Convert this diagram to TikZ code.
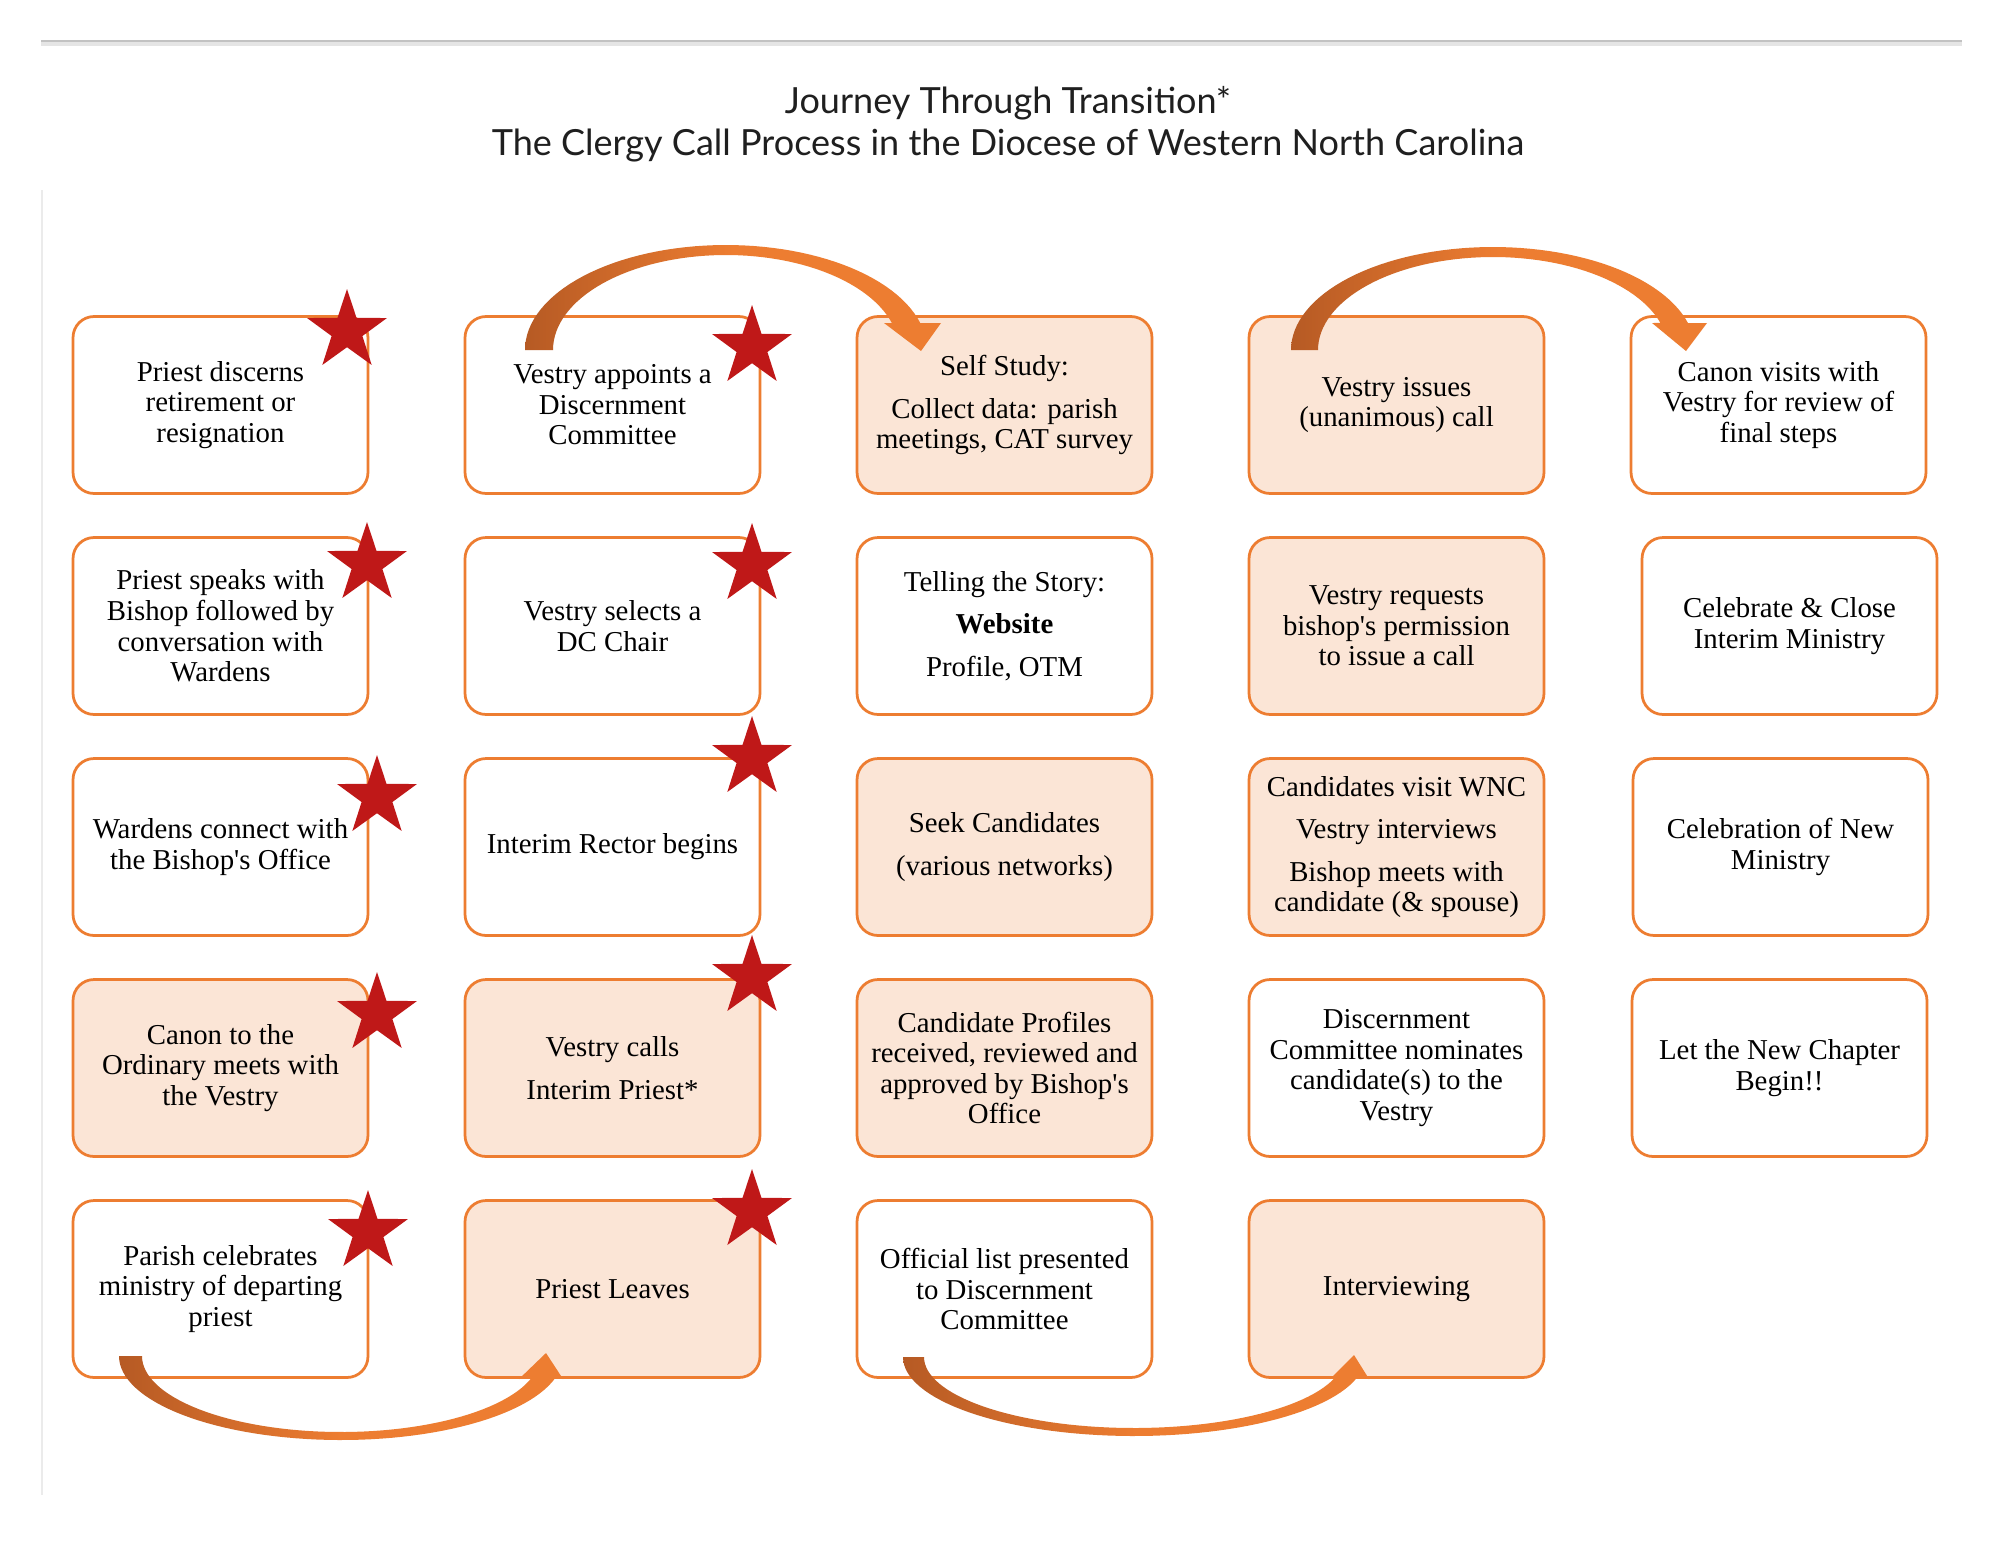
\documentclass[tikz,border=0pt]{standalone}
\usepackage{fontspec}
\setmainfont{Liberation Serif}[Ligatures=TeXOff]
\newfontfamily\titlefont{Lato}
\usetikzlibrary{calc}
\pgfdeclarelayer{bg}
\pgfsetlayers{bg,main}
\definecolor{boxor}{HTML}{ED7D31}
\definecolor{boxfill}{HTML}{FBE5D6}
\definecolor{arrdark}{HTML}{B65A24}
\definecolor{starred}{HTML}{BF1818}
\newcommand\starat[3]{%
  \coordinate (#1) at (#2,#3);
  \fill[starred] plot[samples at={0,...,9}, variable=\k]
    ({#2+ifthenelse(mod(\k,2)==0,42,16.2)*cos(90+36*\k)},{#3-ifthenelse(mod(\k,2)==0,42,16.2)*sin(90+36*\k)}) -- cycle;}
\begin{document}
\begin{tikzpicture}[x=0.02cm,y=-0.02cm,
  card/.style={draw=boxor, line width=0.055cm, rounded corners=0.42cm, minimum width=5.9cm, minimum height=3.54cm, align=center, inner sep=0pt, fill=white, font=\fontsize{16.4pt}{17.4pt}\selectfont},
  cardf/.style={card, fill=boxfill},
  bar/.style={draw=boxor, line width=0.54cm},
  arr/.style={left color=arrdark, right color=boxor, middle color=boxor},
  ttl/.style={font=\titlefont\fontsize{20.5pt}{24pt}\selectfont, text=black!88, anchor=base, inner sep=0pt}
]
\fill[white] (0,0) rectangle (2000,1545);
\useasboundingbox (0,0) rectangle (2000,1545);
% frame lines
\draw[black!8, line width=0.03cm] (42,190) -- (42,1495);
\draw[black!10, line width=0.08cm] (41,44) -- (1962,44);
\draw[black!24, line width=0.05cm] (41,41) -- (1962,41);
% title
\node[ttl] (t1) at (1008,113) {Journey Through Transition*};
\node[ttl] (t2) at (1008,155) {The Clergy Call Process in the Diocese of Western North Carolina};
% column 1
\node[card]  (n11) at (220.5,405) {Priest discerns\\retirement or\\resignation};
\node[card]  (n12) at (220.5,626) {Priest speaks with\\Bishop followed by\\conversation with\\Wardens};
\node[card]  (n13) at (220.5,847) {Wardens connect with\\the Bishop's Office};
\node[cardf] (n14) at (220.5,1068) {Canon to the\\Ordinary meets with\\the Vestry};
\node[card]  (n15) at (220.5,1289) {Parish celebrates\\ministry of departing\\priest};
% column 2
\node[card]  (n21) at (612.5,405) {Vestry appoints a\\Discernment\\Committee};
\node[card]  (n22) at (612.5,626) {Vestry selects a\\DC Chair};
\node[card]  (n23) at (612.5,847) {Interim Rector begins};
\node[cardf] (n24) at (612.5,1068) {Vestry calls\\[0.24cm]Interim Priest*};
\node[cardf] (n25) at (612.5,1289) {Priest Leaves};
% column 3
\node[cardf] (n31) at (1004.5,405) {Self Study:\\[0.24cm]Collect data: parish\\meetings, CAT survey};
\node[card]  (n32) at (1004.5,626) {Telling the Story:\\[0.24cm]\textbf{Website}\\[0.24cm]Profile, OTM};
\node[cardf] (n33) at (1004.5,847) {Seek Candidates\\[0.24cm](various networks)};
\node[cardf] (n34) at (1004.5,1068) {Candidate Profiles\\received, reviewed and\\approved by Bishop's\\Office};
\node[card]  (n35) at (1004.5,1289) {Official list presented\\to Discernment\\Committee};
% column 4
\node[cardf] (n41) at (1396.5,405) {Vestry issues\\(unanimous) call};
\node[cardf] (n42) at (1396.5,626) {Vestry requests\\bishop's permission\\to issue a call};
\node[cardf] (n43) at (1396.5,847) {Candidates visit WNC\\[0.24cm]Vestry interviews\\[0.24cm]Bishop meets with\\candidate (\& spouse)};
\node[card]  (n44) at (1396.5,1068) {Discernment\\Committee nominates\\candidate(s) to the\\Vestry};
\node[cardf] (n45) at (1396.5,1289) {Interviewing};
% column 5
\node[card]  (n51) at (1778.5,405) {Canon visits with\\Vestry for review of\\final steps};
\node[card]  (n52) at (1789.5,626) {Celebrate \& Close\\Interim Ministry};
\node[card]  (n53) at (1780.5,847) {Celebration of New\\Ministry};
\node[card]  (n54) at (1779.5,1068) {Let the New Chapter\\Begin!!};
% vertical bars
\begin{pgfonlayer}{bg}
\foreach \a/\b/\o in {n11/n12/60,n12/n13/60,n13/n14/60,n14/n15/60,
                      n21/n22/60,n22/n23/60,n23/n24/60,n24/n25/60,
                      n31/n32/60,n32/n33/60,n33/n34/60,n34/n35/60,
                      n41/n42/60,n42/n43/60,n43/n44/60,n44/n45/60,
                      n51/n52/64,n52/n53/55,n53/n54/58}
  \draw[bar] ($(\a.south west)+(\o,0)$) -- ($(\a.south west)+(\o,0)$ |- \b.north);
\end{pgfonlayer}
% curved arrows
% n15 -> n25
\shade[arr] plot[domain=180:15.2, samples=60, variable=\t] ({341+222*cos(\t)},{1356+84*sin(\t)})
  -- (563,1379) -- (546,1353) -- (519,1379)
  -- plot[domain=16.8:180, samples=60, variable=\t] ({341+199*cos(\t)},{1356+76*sin(\t)}) -- cycle;
% n21 -> n31
\shade[arr] plot[domain=180:14.9, samples=60, variable=\t] ({726+201*cos(\t)},{350-105*sin(\t)})
  -- (941,323) -- (921,351) -- (884,323)
  -- plot[domain=16.5:180, samples=60, variable=\t] ({726+173*cos(\t)},{350-95*sin(\t)}) -- cycle;
% n35 -> n45
\shade[arr] plot[domain=180:15.4, samples=60, variable=\t] ({1134+231*cos(\t)},{1357+79*sin(\t)})
  -- (1369,1379) -- (1354,1355) -- (1330,1379)
  -- plot[domain=17.2:180, samples=60, variable=\t] ({1134+210*cos(\t)},{1357+71*sin(\t)}) -- cycle;
% n41 -> n51
\shade[arr] plot[domain=180:15.2, samples=60, variable=\t] ({1493+202*cos(\t)},{350-103*sin(\t)})
  -- (1707,323) -- (1686,351) -- (1652,323)
  -- plot[domain=16.9:180, samples=60, variable=\t] ({1493+175*cos(\t)},{350-93*sin(\t)}) -- cycle;
% stars
\starat{s11}{347}{331}
\starat{s12}{367}{564}
\starat{s13}{377}{797}
\starat{s14}{377}{1014}
\starat{s15}{368}{1232}
\starat{s21}{752}{347}
\starat{s22}{752}{565}
\starat{s23}{752}{758}
\starat{s24}{752}{977}
\starat{s25}{752}{1211}
\end{tikzpicture}
\end{document}
